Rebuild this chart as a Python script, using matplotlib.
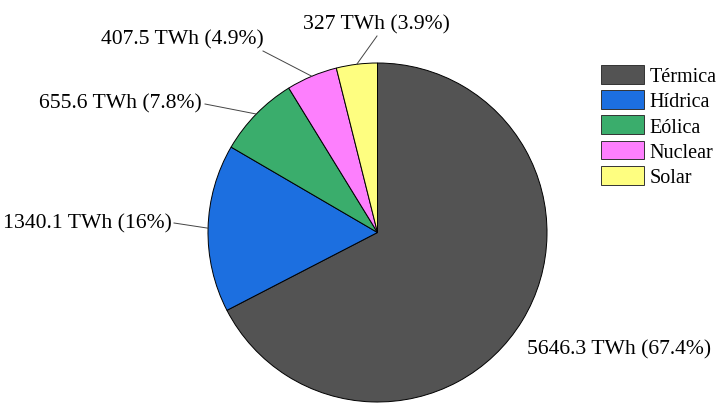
import numpy as np
import matplotlib
matplotlib.use("Agg")
import matplotlib.pyplot as plt

categories = ["Térmica", "Hídrica", "Eólica", "Nuclear", "Solar"]
values = [5646.3, 1340.1, 655.6, 407.5, 327]
percent_labels = ["67.4%", "16%", "7.8%", "4.9%", "3.9%"]
colors = ["#535353", "#1c6fe0", "#3aad6c", "#fd7ffd", "#fefe80"]

W, H = 727, 414
plt.rcParams["font.family"] = ["Liberation Serif", "DejaVu Serif"]

fig = plt.figure(figsize=(W / 100, H / 100), dpi=100)
ax = fig.add_axes([0, 0, 1, 1])
ax.set_xlim(0, W)
ax.set_ylim(0, H)
ax.set_aspect("equal")
ax.axis("off")

cx, cy, R = 377.5, H - 233.5, 169.5
wedges, _ = ax.pie(values, colors=colors, startangle=90, counterclock=False,
                   center=(cx, cy), radius=R, frame=True,
                   wedgeprops=dict(edgecolor="black", linewidth=0.7))
ax.set_xlim(0, W)
ax.set_ylim(0, H)
ax.axis("off")

# layout: (text x, text y, ha, line end x, line end y) in pixel coordinates (top-left origin)
layout = [
    (527, 350, "left", None, None),
    (172, 224, "right", 174, 224),
    (202, 104, "right", 205, 105),
    (264, 40, "right", 263, 52),
    (376, 25, "center", 377, 37),
]

for w, v, p, (tx, ty, ha, lx, ly) in zip(wedges, values, percent_labels, layout):
    val = f"{v:g}"
    ax.text(tx, H - ty, f"{val} TWh ({p})", ha=ha, va="center", fontsize=15.6,
            color="black")
    if lx is not None:
        mid = np.deg2rad((w.theta1 + w.theta2) / 2)
        ex, ey = cx + R * np.cos(mid), cy + R * np.sin(mid)
        ax.plot([ex, lx], [ey, H - ly], color="#444444", linewidth=0.7)

handles = [plt.Rectangle((0, 0), 1, 1, facecolor=c, edgecolor="#333333", linewidth=0.7)
           for c in colors]
leg = fig.legend(handles, categories, loc="upper left",
                 bbox_to_anchor=(601 / W, 1 - 66 / H), frameon=False,
                 fontsize=14.5, handlelength=2.15, handleheight=1.05,
                 labelspacing=0.2, handletextpad=0.25, borderpad=0,
                 borderaxespad=0)

fig.savefig("out.png", dpi=100)
